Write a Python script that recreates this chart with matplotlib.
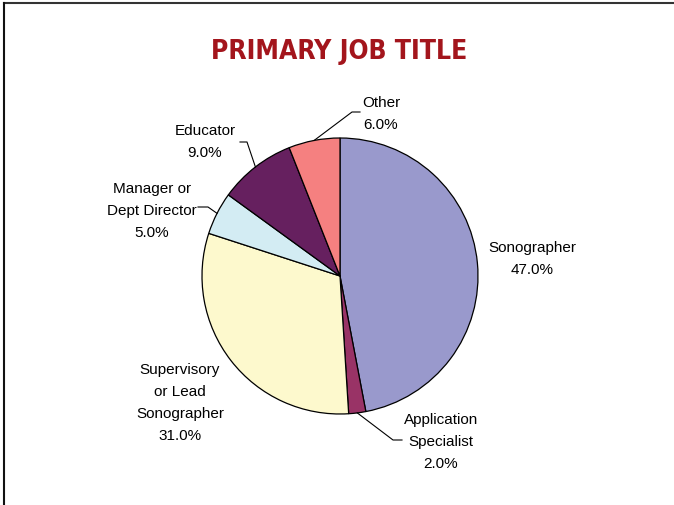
import matplotlib
matplotlib.use('Agg')
import numpy as np
from matplotlib import pyplot as plt
from matplotlib.lines import Line2D

# Survey results: primary job title
titles = ['Sonographer', 'Application\nSpecialist', 'Supervisory\nor Lead\nSonographer',
          'Manager or\nDept Director', 'Educator', 'Other']
shares = [47.0, 2.0, 31.0, 5.0, 9.0, 6.0]
colors = ['#9999CC', '#993366', '#FDF9CD', '#D3ECF3', '#66205F', '#F58080']

W, H = 674, 506
fig = plt.figure(figsize=(W / 100, H / 100), dpi=100)
ax = fig.add_axes([0, 0, 1, 1])

cx, cy, r = 340, H - 277, 138
wedges, _ = ax.pie(shares, colors=colors, startangle=90, counterclock=False,
                   center=(cx, cy), radius=r, frame=True,
                   wedgeprops=dict(edgecolor='black', linewidth=0.9))
ax.set_xlim(0, W)
ax.set_ylim(0, H)
ax.axis('off')

# label anchor (centre of text block) and leader elbow for each slice
label_pos = [(532, H - 259), (441, H - 442), (180, H - 403),
             (152, H - 211), (205, H - 142), (381, H - 114)]
elbows = [None, ((393, H - 441), (402, H - 441)), None,
          ((208, H - 208), (198, H - 208)),
          ((247, H - 143), (240, H - 143)),
          ((352, H - 113), (360, H - 113))]

for w, name, val, pos, elb in zip(wedges, titles, shares, label_pos, elbows):
    ax.text(pos[0], pos[1], f'{name}\n{val:.1f}%', ha='center', va='center',
            fontsize=11, family='Liberation Sans', linespacing=1.7)
    if elb is not None:
        mid = np.deg2rad((w.theta1 + w.theta2) / 2)
        sx, sy = cx + r * np.cos(mid), cy + r * np.sin(mid)
        ax.plot([sx, elb[0][0], elb[1][0]], [sy, elb[0][1], elb[1][1]],
                color='black', linewidth=0.8)

fig.text(339 / W, 1 - 52 / H, 'PRIMARY JOB TITLE', ha='center', va='center',
         fontsize=19, fontweight='bold', fontstretch='condensed',
         family='DejaVu Sans', color='#A3151C')

# chart frame (top and left edges)
fig.add_artist(Line2D([4 / W, 1], [1 - 4 / H, 1 - 4 / H], color='#333333', linewidth=1.5))
fig.add_artist(Line2D([4 / W, 4 / W], [0, 1 - 4 / H], color='#111111', linewidth=1.5))

fig.savefig('out.png', dpi=100)
